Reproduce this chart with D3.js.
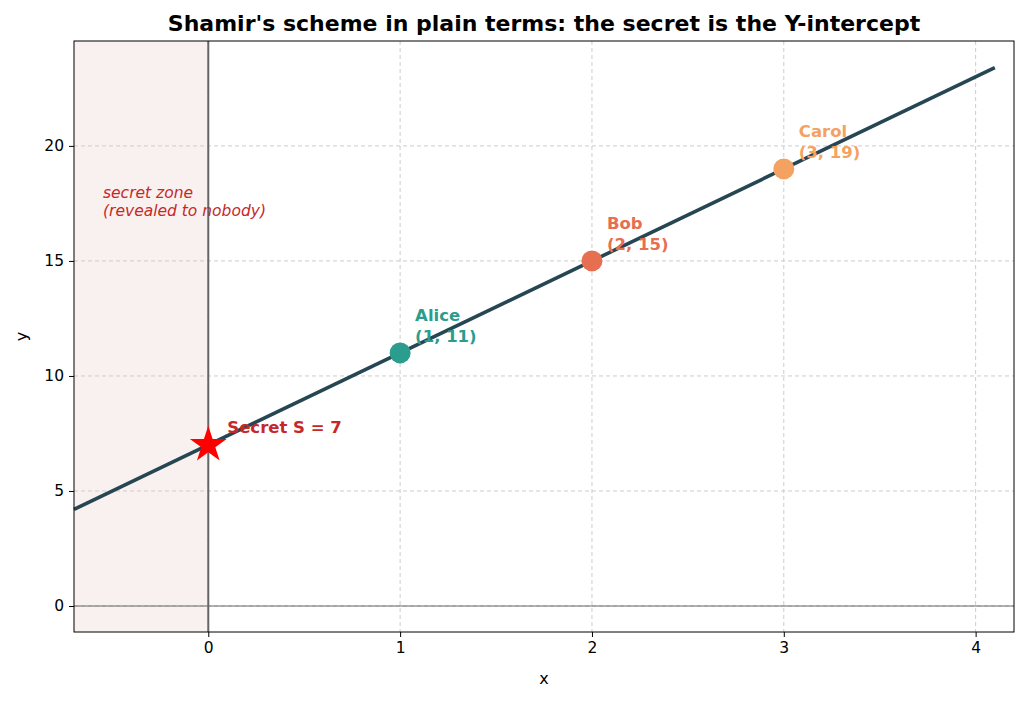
<!DOCTYPE html>
<html><head><meta charset="utf-8">
<script src="https://cdn.jsdelivr.net/npm/d3@7"></script>
<style>body{margin:0;background:#fff;font-family:"DejaVu Sans",sans-serif}</style>
</head><body><svg id="c" width="1026" height="701"></svg>
<script>
const lineX = [-0.7, 4.1];
const slope = 4, intercept = 7;
const names = ["Alice", "Bob", "Carol"];
const shareX = [1, 2, 3];
const shareY = [11, 15, 19];
const colors = ["#2a9d8f", "#e76f51", "#f4a261"];
const xTicks = [0, 1, 2, 3, 4];
const yTicks = [0, 5, 10, 15, 20];

const svg = d3.select("#c");
const L = 74, R = 1014, T = 41, B = 632;
const x = d3.scaleLinear().domain([-0.7, 4.2]).range([L, R]);
const y = d3.scaleLinear().domain([-1.13, 24.56]).range([B, T]);

svg.append("rect").attr("x", x(-0.7)).attr("y", T).attr("width", x(0) - x(-0.7)).attr("height", B - T).attr("fill", "#f9f1ef");

const g = svg.append("g");
xTicks.forEach(t => g.append("line").attr("x1", x(t)).attr("x2", x(t)).attr("y1", T).attr("y2", B).attr("stroke", "#ccc").attr("stroke-dasharray", "4,3"));
yTicks.forEach(t => g.append("line").attr("x1", L).attr("x2", R).attr("y1", y(t)).attr("y2", y(t)).attr("stroke", "#ccc").attr("stroke-dasharray", "4,3"));

svg.append("line").attr("x1", L).attr("x2", R).attr("y1", y(0)).attr("y2", y(0)).attr("stroke", "#666").attr("stroke-width", 1);
svg.append("line").attr("x1", x(0)).attr("x2", x(0)).attr("y1", T).attr("y2", B).attr("stroke", "#666").attr("stroke-width", 2);

svg.append("path").attr("d", d3.line().x(d => x(d)).y(d => y(intercept + slope * d))(lineX))
  .attr("stroke", "#264653").attr("stroke-width", 3.6).attr("fill", "none");

svg.selectAll(".pt").data(shareX).enter().append("circle")
  .attr("cx", d => x(d)).attr("cy", (d, i) => y(shareY[i])).attr("r", 10.5).attr("fill", (d, i) => colors[i]);
svg.selectAll(".lb").data(shareX).enter().append("text")
  .attr("x", d => x(d) + 15).attr("y", (d, i) => y(shareY[i]) - 32)
  .attr("fill", (d, i) => colors[i]).attr("font-size", 16.5).attr("font-weight", "bold")
  .each(function (d, i) {
    d3.select(this).append("tspan").attr("x", x(d) + 15).attr("dy", 0).text(names[i]);
    d3.select(this).append("tspan").attr("x", x(d) + 15).attr("dy", 21).text(`(${d}, ${shareY[i]})`);
  });

svg.append("path").attr("d", d3.symbol().type(d3.symbolStar).size(420)())
  .attr("transform", `translate(${x(0)},${y(intercept)})`).attr("fill", "red");
svg.append("text").attr("x", x(0) + 19).attr("y", y(intercept) - 12).attr("fill", "#c62828")
  .attr("font-size", 16.5).attr("font-weight", "bold").text("Secret S = 7");

const sz = svg.append("text").attr("fill", "#c62828").attr("font-size", 15.5).attr("font-style", "italic");
sz.append("tspan").attr("x", 103).attr("y", 198).text("secret zone");
sz.append("tspan").attr("x", 103).attr("y", 216).text("(revealed to nobody)");

svg.append("rect").attr("x", L).attr("y", T).attr("width", R - L).attr("height", B - T).attr("fill", "none").attr("stroke", "#000");

const xa = svg.append("g").attr("transform", `translate(0,${B})`).call(d3.axisBottom(x).tickValues(xTicks).tickFormat(d3.format("d")).tickSize(5).tickPadding(5));
const ya = svg.append("g").attr("transform", `translate(${L},0)`).call(d3.axisLeft(y).tickValues(yTicks).tickFormat(d3.format("d")).tickSize(5).tickPadding(5));
[xa, ya].forEach(a => { a.select(".domain").remove(); a.selectAll("text").attr("font-size", 15.5).attr("font-family", "DejaVu Sans").attr("fill", "#000"); });

svg.append("text").attr("x", (L + R) / 2).attr("y", 684).attr("text-anchor", "middle").attr("font-size", 16).text("x");
svg.append("text").attr("transform", `translate(27,${(T + B) / 2}) rotate(-90)`).attr("text-anchor", "middle").attr("font-size", 16).text("y");
svg.append("text").attr("x", (L + R) / 2).attr("y", 31).attr("text-anchor", "middle").attr("font-size", 22).attr("font-weight", "bold")
  .text("Shamir's scheme in plain terms: the secret is the Y-intercept");
</script></body></html>
